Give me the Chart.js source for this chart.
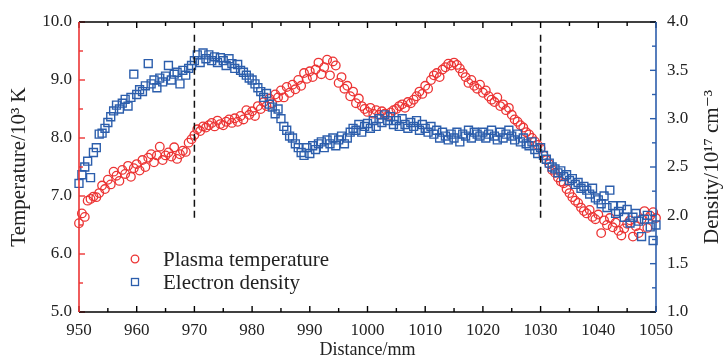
<!DOCTYPE html>
<html>
<head>
<meta charset="utf-8">
<script src="https://cdn.jsdelivr.net/npm/chart.js@4.4.1/dist/chart.umd.min.js"></script>
<style>
	html, body { margin: 0; padding: 0; background: #fff; }
	#wrap { width: 727px; height: 361px; }
</style>
</head>
<body>
<div id="wrap"><canvas id="chart__scatter"></canvas></div>
<script>
// Distance along the axis (mm)
const distance = [
	950, 950.5, 951, 951.5, 952, 952.5, 953, 953.5, 954, 954.5,
	955, 955.5, 956, 956.5, 957, 957.5, 958, 958.5, 959, 959.5,
	960, 960.5, 961, 961.5, 962, 962.5, 963, 963.5, 964, 964.5,
	965, 965.5, 966, 966.5, 967, 967.5, 968, 968.5, 969, 969.5,
	970, 970.5, 971, 971.5, 972, 972.5, 973, 973.5, 974, 974.5,
	975, 975.5, 976, 976.5, 977, 977.5, 978, 978.5, 979, 979.5,
	980, 980.5, 981, 981.5, 982, 982.5, 983, 983.5, 984, 984.5,
	985, 985.5, 986, 986.5, 987, 987.5, 988, 988.5, 989, 989.5,
	990, 990.5, 991, 991.5, 992, 992.5, 993, 993.5, 994, 994.5,
	995, 995.5, 996, 996.5, 997, 997.5, 998, 998.5, 999, 999.5,
	1000, 1000.5, 1001, 1001.5, 1002, 1002.5, 1003, 1003.5, 1004, 1004.5,
	1005, 1005.5, 1006, 1006.5, 1007, 1007.5, 1008, 1008.5, 1009, 1009.5,
	1010, 1010.5, 1011, 1011.5, 1012, 1012.5, 1013, 1013.5, 1014, 1014.5,
	1015, 1015.5, 1016, 1016.5, 1017, 1017.5, 1018, 1018.5, 1019, 1019.5,
	1020, 1020.5, 1021, 1021.5, 1022, 1022.5, 1023, 1023.5, 1024, 1024.5,
	1025, 1025.5, 1026, 1026.5, 1027, 1027.5, 1028, 1028.5, 1029, 1029.5,
	1030, 1030.5, 1031, 1031.5, 1032, 1032.5, 1033, 1033.5, 1034, 1034.5,
	1035, 1035.5, 1036, 1036.5, 1037, 1037.5, 1038, 1038.5, 1039, 1039.5,
	1040, 1040.5, 1041, 1041.5, 1042, 1042.5, 1043, 1043.5, 1044, 1044.5,
	1045, 1045.5, 1046, 1046.5, 1047, 1047.5, 1048, 1048.5, 1049, 1049.5,
	1050,
];

// Plasma temperature (10^3 K)
const temperature = [
	6.53, 6.70, 6.64, 6.92, 6.95, 6.99, 6.98, 7.05, 7.18, 7.12,
	7.28, 7.20, 7.42, 7.35, 7.26, 7.45, 7.38, 7.52, 7.33, 7.48,
	7.55, 7.44, 7.62, 7.50, 7.66, 7.72, 7.58, 7.70, 7.85, 7.62,
	7.70, 7.75, 7.68, 7.84, 7.64, 7.72, 7.78, 7.76, 7.92, 7.98,
	8.05, 8.15, 8.12, 8.20, 8.18, 8.22, 8.26, 8.20, 8.30, 8.24,
	8.22, 8.28, 8.32, 8.26, 8.34, 8.28, 8.38, 8.32, 8.48, 8.40,
	8.46, 8.38, 8.55, 8.50, 8.62, 8.55, 8.68, 8.60, 8.75, 8.70,
	8.82, 8.70, 8.88, 8.78, 8.92, 8.84, 9.00, 8.90, 9.12, 9.02,
	9.15, 9.05, 9.18, 9.30, 9.10, 9.22, 9.35, 9.08, 9.32, 9.25,
	8.95, 9.05, 8.85, 8.90, 8.72, 8.80, 8.60, 8.68, 8.55, 8.50,
	8.45, 8.52, 8.42, 8.48, 8.40, 8.46, 8.42, 8.38, 8.44, 8.48,
	8.50, 8.55, 8.58, 8.52, 8.62, 8.60, 8.66, 8.72, 8.80, 8.76,
	8.90, 8.85, 9.00, 9.08, 9.12, 9.05, 9.18, 9.22, 9.28, 9.25,
	9.30, 9.26, 9.20, 9.12, 9.05, 8.95, 9.00, 8.90, 8.85, 8.92,
	8.78, 8.82, 8.72, 8.66, 8.62, 8.70, 8.55, 8.58, 8.48, 8.52,
	8.40, 8.32, 8.28, 8.22, 8.18, 8.10, 8.06, 8.00, 7.94, 7.88,
	7.82, 7.70, 7.62, 7.55, 7.45, 7.40, 7.32, 7.25, 7.22, 7.12,
	7.05, 6.98, 6.92, 6.88, 6.80, 6.74, 6.70, 6.76, 6.64, 6.60,
	6.68, 6.36, 6.58, 6.50, 6.62, 6.46, 6.54, 6.40, 6.32, 6.44,
	6.52, 6.58, 6.30, 6.48, 6.36, 6.60, 6.74, 6.45, 6.66, 6.72,
	6.62,
];

// Electron density (10^17 cm^-3)
const density = [
	2.33, 2.42, 2.50, 2.56, 2.39, 2.65, 2.70, 2.84, 2.85, 2.90,
	2.96, 3.02, 3.08, 3.14, 3.10, 3.16, 3.20, 3.13, 3.22, 3.46,
	3.25, 3.30, 3.28, 3.34, 3.57, 3.36, 3.40, 3.32, 3.42, 3.38,
	3.44, 3.55, 3.40, 3.46, 3.48, 3.36, 3.50, 3.45, 3.52, 3.55,
	3.60, 3.66, 3.58, 3.68, 3.62, 3.66, 3.60, 3.64, 3.58, 3.63,
	3.60, 3.55, 3.62, 3.57, 3.52, 3.56, 3.50, 3.48, 3.45, 3.42,
	3.40, 3.36, 3.32, 3.28, 3.22, 3.26, 3.15, 3.12, 3.05, 3.10,
	3.00, 2.92, 2.88, 2.82, 2.80, 2.74, 2.70, 2.65, 2.62, 2.70,
	2.64, 2.72, 2.68, 2.74, 2.76, 2.70, 2.78, 2.74, 2.80, 2.72,
	2.78, 2.82, 2.74, 2.80, 2.86, 2.90, 2.88, 2.94, 2.86, 2.92,
	2.95, 2.90, 2.98, 2.92, 3.00, 2.96, 3.04, 2.98, 3.02, 2.94,
	2.98, 2.92, 3.00, 2.94, 2.90, 2.96, 2.92, 2.98, 2.88, 2.94,
	2.90, 2.86, 2.92, 2.84, 2.88, 2.80, 2.86, 2.82, 2.78, 2.84,
	2.80, 2.86, 2.76, 2.84, 2.82, 2.88, 2.80, 2.86, 2.84, 2.82,
	2.86, 2.80, 2.84, 2.88, 2.82, 2.78, 2.86, 2.80, 2.84, 2.88,
	2.82, 2.78, 2.84, 2.76, 2.80, 2.74, 2.72, 2.76, 2.68, 2.64,
	2.70, 2.62, 2.58, 2.54, 2.50, 2.48, 2.44, 2.46, 2.40, 2.42,
	2.36, 2.38, 2.32, 2.34, 2.28, 2.30, 2.26, 2.22, 2.28, 2.18,
	2.16, 2.12, 2.20, 2.08, 2.26, 2.10, 2.02, 2.04, 2.10, 1.98,
	2.06, 1.92, 1.98, 2.02, 1.94, 1.78, 1.96, 2.00, 1.88, 1.74,
	1.90,
];

// Dashed reference lines (distance) and their extent in temperature units
const markerLines = [970, 1030];
const markerSpan = [9.78, 6.6];

const seriesNames = ["Plasma temperature", "Electron density"];

const RED = "rgb(236, 52, 52)";
const BLUE = "rgb(44, 94, 172)";
const SERIF = "'Liberation Serif', 'DejaVu Serif', serif";
const TEXT = "#222";

// Pair x values with a series
const toPoints = (ys) => ys.map((y, i) => ({ x: distance[i], y }));

const markerDatasets = () =>
	markerLines.map((d) => ({
		type: "line",
		data: markerSpan.map((t) => ({ x: d, y: t })),
		yAxisID: "yT",
		borderColor: "#111",
		borderWidth: 1.5,
		borderDash: [7, 4],
		pointRadius: 0,
		showLine: true,
		order: 0,
	}));

// Frame, inward ticks and legend
const framePlugin = {
	id: "frame",
	afterDatasetsDraw(chart) {
		const { ctx, chartArea, scales } = chart;
		const { left, right, top, bottom } = chartArea;
		const seg = (x1, y1, x2, y2, color) => {
			ctx.strokeStyle = color;
			ctx.beginPath();
			ctx.moveTo(x1, y1);
			ctx.lineTo(x2, y2);
			ctx.stroke();
		};
		ctx.save();
		ctx.lineWidth = 1.4;

		// x ticks, bottom and top
		for (let v = 950; v <= 1050; v += 5) {
			const px = scales.x.getPixelForValue(v);
			const len = v % 10 === 0 ? 6 : 4;
			seg(px, bottom, px, bottom - len, "#000");
			seg(px, top, px, top + len, "#000");
		}
		// temperature ticks (left)
		for (let v = 5; v <= 10; v += 0.5) {
			const py = scales.yT.getPixelForValue(v);
			seg(left, py, left + (v % 1 === 0 ? 6 : 4), py, RED);
		}
		// density ticks (right)
		for (let v = 1; v <= 4; v += 0.25) {
			const py = scales.yD.getPixelForValue(v);
			seg(right, py, right - (v % 0.5 === 0 ? 6 : 4), py, BLUE);
		}

		ctx.lineWidth = 1.6;
		seg(left, top, right, top, "#000");
		seg(left, bottom, right, bottom, "#000");
		seg(left, top, left, bottom, RED);
		seg(right, top, right, bottom, BLUE);

		// legend
		ctx.lineWidth = 1.3;
		ctx.strokeStyle = RED;
		ctx.beginPath();
		ctx.arc(135, 259, 3.8, 0, Math.PI * 2);
		ctx.stroke();
		ctx.strokeStyle = BLUE;
		ctx.strokeRect(131.5, 278.5, 7, 7);
		ctx.fillStyle = TEXT;
		ctx.font = `21px ${SERIF}`;
		ctx.textBaseline = "middle";
		ctx.textAlign = "left";
		ctx.fillText(seriesNames[0], 163, 260);
		ctx.fillText(seriesNames[1], 163, 283);

		// right axis title, reading bottom to top
		ctx.translate(712, (top + bottom) / 2);
		ctx.rotate(-Math.PI / 2);
		ctx.textAlign = "center";
		ctx.font = `21px ${SERIF}`;
		ctx.fillText("Density/10\u00B9\u2077 cm\u207B\u00B3", 0, 0);
		ctx.restore();
	},
};

const tickFont = { family: SERIF, size: 17 };

const createChart = () => {
	const ctx = document.getElementById("chart__scatter");
	// eslint-disable-next-line no-undef
	return new Chart(ctx, {
		type: "scatter",
		data: {
			datasets: [
				{
					label: seriesNames[0],
					data: toPoints(temperature),
					yAxisID: "yT",
					pointStyle: "circle",
					pointRadius: 4.3,
					borderWidth: 1.3,
					borderColor: RED,
					backgroundColor: "rgba(0,0,0,0)",
					order: 2,
					clip: false,
				},
				{
					label: seriesNames[1],
					data: toPoints(density),
					yAxisID: "yD",
					pointStyle: "rect",
					pointRadius: 5.6,
					borderWidth: 1.4,
					borderColor: BLUE,
					backgroundColor: "rgba(0,0,0,0)",
					order: 1,
					clip: false,
				},
				...markerDatasets(),
			],
		},
		options: {
			responsive: true,
			maintainAspectRatio: false,
			animation: false,
			events: [],
			layout: { padding: { top: 22, left: 0, right: 0, bottom: 0 } },
			plugins: { legend: { display: false }, tooltip: { enabled: false } },
			scales: {
				x: {
					type: "linear",
					min: 950,
					max: 1050,
					ticks: {
						stepSize: 10,
						font: tickFont,
						color: TEXT,
						padding: 8,
						maxRotation: 0,
						callback: (v) => String(v),
					},
					grid: { display: false, drawTicks: false },
					border: { display: false },
					title: {
						display: true,
						text: "Distance/mm",
						font: { family: SERIF, size: 18 },
						color: TEXT,
						padding: { top: 0, bottom: 0 },
					},
					afterFit: (s) => { s.height = 49; },
				},
				yT: {
					position: "left",
					min: 5,
					max: 10,
					ticks: {
						stepSize: 1,
						font: tickFont,
						color: TEXT,
						padding: 7,
						callback: (v) => v.toFixed(1),
					},
					grid: { display: false, drawTicks: false },
					border: { display: false },
					title: {
						display: true,
						text: "Temperature/10\u00B3 K",
						font: { family: SERIF, size: 21 },
						color: TEXT,
						padding: { top: 7, bottom: 0 },
					},
					afterFit: (s) => { s.width = 79; },
				},
				yD: {
					position: "right",
					min: 1,
					max: 4,
					ticks: {
						stepSize: 0.5,
						font: tickFont,
						color: TEXT,
						padding: 11,
						callback: (v) => v.toFixed(1),
					},
					grid: { display: false, drawTicks: false },
					border: { display: false },
					afterFit: (s) => { s.width = 71; },
				},
			},
		},
		plugins: [framePlugin],
	});
};

document.addEventListener("DOMContentLoaded", () => {
	createChart();
});
</script>
</body>
</html>
